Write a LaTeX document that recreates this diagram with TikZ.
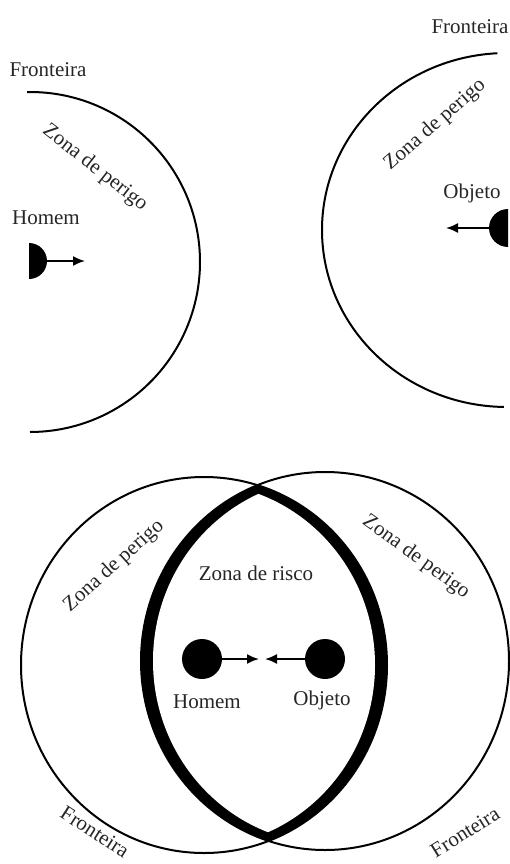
\documentclass[tikz,border=0pt]{standalone}
\usepackage{fontspec}
\setmainfont{Liberation Serif}
\usetikzlibrary{arrows.meta}
\begin{document}
\begin{tikzpicture}[x=1pt,y=-1pt,
  lbl/.style={font=\fontsize{21}{25}\selectfont, inner sep=0pt, text=black!85},
  thinline/.style={line width=2pt},
  arr/.style={line width=1.8pt, -{Latex[length=12pt,width=10pt]}},
  blob/.style={circle, fill=black, minimum size=40pt, inner sep=0pt}]
\useasboundingbox (0,0) rectangle (509,864);

% ---------- top left: Homem ----------
\draw[thinline] (30,262) ++(-91:170) arc[start angle=-91, end angle=90, radius=170];
\fill (29,243) arc[start angle=-90, end angle=90, radius=18] -- cycle;
\coordinate (hmA) at (47,261);
\coordinate (hmB) at (85,261);
\draw[arr] (hmA) -- (hmB);
\node[lbl] (f1) at (48,70) {Fronteira};
\node[lbl, rotate=-38] (z1) at (95,168) {Zona de perigo};
\node[lbl] (h1) at (46,218) {Homem};

% ---------- top right: Objeto ----------
\draw[thinline] (507,230) ++(-93:185 and 177) arc[start angle=-93, end angle=-269, x radius=185, y radius=177];
\fill (508,209) arc[start angle=-90, end angle=-270, radius=19] -- cycle;
\coordinate (obA) at (489,228);
\coordinate (obB) at (446,228);
\draw[arr] (obA) -- (obB);
\node[lbl] (f2) at (470,27) {Fronteira};
\node[lbl, rotate=41] (z2) at (435,125) {Zona de perigo};
\node[lbl] (o2) at (472,193) {Objeto};

% ---------- bottom: overlap ----------
\begin{scope}
  \clip (204,665) ellipse[x radius=183, y radius=188];
  \fill (325,661) ellipse[x radius=184, y radius=189];
\end{scope}
\begin{scope}
  \clip (198,665) ellipse[x radius=177, y radius=182];
  \fill[white] (331,661) ellipse[x radius=178, y radius=183];
\end{scope}
\draw[thinline] (204,665) ellipse[x radius=183, y radius=188];
\draw[thinline] (325,661) ellipse[x radius=184, y radius=189];

\node[blob] (hb) at (202,659) {};
\node[blob] (ob) at (325,659) {};
\coordinate (m1) at (259,659);
\coordinate (m2) at (265,659);
\draw[arr] (hb) -- (m1);
\draw[arr] (ob) -- (m2);

\node[lbl] (zr) at (256,573) {Zona de risco};
\node[lbl] (h3) at (207,702) {Homem};
\node[lbl] (o3) at (322,700) {Objeto};
\node[lbl, rotate=42] (z3) at (114,566) {Zona de perigo};
\node[lbl, rotate=-36] (z4) at (416,557) {Zona de perigo};
\node[lbl, rotate=-33] (f3) at (95,832) {Fronteira};
\node[lbl, rotate=32] (f4) at (465,832) {Fronteira};
\end{tikzpicture}
\end{document}
